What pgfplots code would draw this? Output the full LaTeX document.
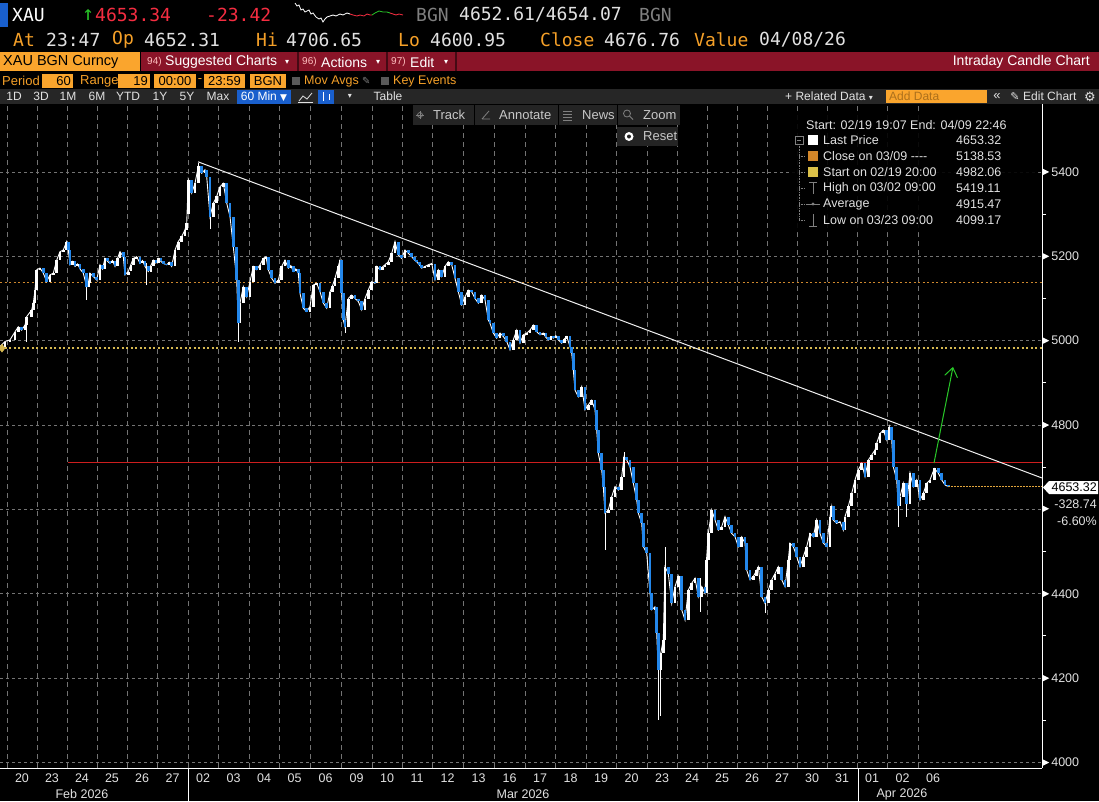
\documentclass[border=0pt]{standalone}
\usepackage{pgfplots}
\pgfplotsset{compat=1.18}
\usepackage{pgfplotstable}
\usepackage{fontspec}
\setmainfont{Liberation Sans}
\newfontfamily\mono{DejaVu Sans Mono}
\newfontfamily\dvs{DejaVu Sans}
\usetikzlibrary{arrows.meta}

\definecolor{borange}{RGB}{250,165,45}
\definecolor{otxt}{RGB}{245,160,40}
\definecolor{bbred}{RGB}{138,20,40}
\definecolor{tbgrey}{RGB}{38,38,38}
\definecolor{lbl}{RGB}{225,225,225}
\definecolor{gridc}{RGB}{115,115,115}
\definecolor{candleblue}{RGB}{35,135,235}
\definecolor{redtxt}{RGB}{245,45,65}
\definecolor{closeor}{RGB}{205,135,45}
\definecolor{startyl}{RGB}{215,185,80}
\definecolor{redline}{RGB}{205,30,30}
\definecolor{greenar}{RGB}{40,200,40}
\definecolor{lastln}{RGB}{225,165,60}
\definecolor{tbblue}{RGB}{25,95,205}
\definecolor{btn}{RGB}{36,36,36}
\definecolor{btxt}{RGB}{200,200,200}

\newcommand\F[1]{\fontsize{#1}{#1}\selectfont}
\newcommand\tri{\tikz[baseline=-1.3pt]\fill[white](0,0)--(0,6pt)--(6pt,3pt)--cycle;}

\pgfplotstableread{
x o c
0 4978 4986
5 4986 4998
10 4998 5002
15 5002 5021
18.3 5021 5033
21.7 5033 5025
25 5025 5037
26.7 5037 5057
31.7 5057 5073
33.3 5073 5089
35 5089 5120
36.7 5120 5168
40 5168 5172
43.3 5172 5160
46.7 5160 5140
50 5140 5156
53.3 5156 5160
56.7 5160 5191
60 5191 5211
63.3 5211 5215
66.7 5215 5235
68.3 5235 5215
70 5215 5180
72.5 5180 5188
75 5188 5176
77.5 5176 5182
80 5182 5170
83.3 5170 5160
86.7 5160 5128
88.3 5128 5136
90 5136 5160
93.3 5160 5152
96.7 5152 5144
100 5144 5180
102.5 5180 5170
105 5170 5195
107.5 5195 5188
110 5188 5183
112.5 5183 5190
115 5190 5176
117.5 5176 5195
120 5195 5211
123.3 5211 5199
125 5199 5156
128.3 5156 5164
130.8 5164 5180
133.3 5180 5195
136.7 5195 5199
140 5199 5183
142.5 5183 5190
145 5190 5176
148.3 5176 5164
150.8 5164 5178
153.3 5178 5191
155.8 5191 5184
158.3 5184 5195
160.8 5195 5188
163.3 5188 5183
166.7 5183 5180
169.2 5180 5186
171.7 5186 5176
175 5176 5215
178.3 5215 5235
181.7 5235 5247
185 5247 5263
186.7 5263 5278
188.3 5300 5381
191.7 5381 5350
195 5350 5373
198.3 5373 5413
201.7 5413 5397
205 5397 5405
206.7 5405 5389
210 5389 5294
213.3 5294 5326
216.7 5326 5342
220 5342 5365
223.3 5365 5373
226.7 5373 5326
230 5326 5294
233.3 5294 5223
236.7 5223 5144
238.3 5144 5041
240 5041 5089
243.3 5089 5128
246.7 5128 5104
250 5104 5140
253.3 5140 5176
256.7 5176 5168
260 5168 5180
263.3 5180 5195
266 5195 5199
268.3 5199 5168
271.7 5168 5148
275 5148 5136
278.3 5136 5144
281.7 5144 5176
285 5176 5191
288.3 5191 5172
290.8 5172 5178
293.3 5178 5164
295.8 5164 5170
298.3 5170 5160
300 5160 5112
303.3 5112 5077
306.7 5077 5069
310 5069 5081
313.3 5081 5132
316.7 5132 5136
320 5136 5116
323.3 5116 5089
326.7 5089 5077
330 5077 5116
332.5 5116 5130
335 5130 5148
338.3 5148 5176
340 5176 5191
341.7 5191 5112
343.3 5112 5049
345 5049 5033
348.3 5033 5100
351.7 5100 5108
355 5108 5100
358.3 5100 5093
361.7 5093 5073
365 5073 5100
368.3 5100 5120
371.7 5120 5140
375 5140 5136
376.7 5136 5176
380 5176 5168
382.5 5168 5175
385 5175 5180
388.3 5180 5187
391.7 5187 5207
395 5207 5235
398.3 5235 5203
401.7 5203 5195
405 5195 5215
408.3 5215 5207
411.7 5207 5199
414.2 5199 5192
416.7 5192 5187
419.2 5187 5180
421.7 5180 5172
425 5172 5176
428.3 5176 5180
431.7 5180 5183
435 5183 5144
438.3 5144 5168
441.7 5168 5152
445 5152 5176
448.3 5176 5187
451.7 5187 5180
455 5180 5148
458.3 5148 5116
461.7 5116 5085
465 5085 5104
468.3 5104 5120
471.7 5120 5116
475 5116 5100
478.3 5100 5089
481.7 5089 5108
485 5108 5097
488.3 5097 5049
490 5049 5041
493.3 5041 5018
496.7 5018 5006
500 5006 5018
503.3 5018 5010
506.7 5010 4998
510 4998 4978
513.3 4978 5002
516.7 5002 5025
520 5025 4994
523.3 4994 5014
526.7 5014 5018
530 5018 5025
533.3 5025 5037
536.7 5037 5021
540 5021 5014
543.3 5014 5018
545.8 5018 5008
548.3 5008 5002
550.8 5002 5010
553.3 5010 5006
555.8 5006 5012
558.3 5012 5002
561.7 5002 4994
564.2 4994 5004
566.7 5004 5010
570 5010 4986
571.7 4986 4970
573.3 4970 4931
575 4931 4883
578.3 4883 4867
581.7 4867 4891
585 4891 4836
588.3 4836 4848
591.7 4848 4859
595 4859 4836
596.7 4836 4788
598.3 4788 4733
601.7 4733 4693
603.3 4693 4654
605 4654 4591
608.3 4591 4599
611.7 4599 4630
615 4630 4654
618.3 4654 4646
621.7 4646 4678
624 4678 4725
626.7 4725 4717
630 4717 4701
633.3 4701 4662
636.7 4662 4622
638.3 4622 4591
641.7 4591 4567
643.3 4567 4512
646.7 4512 4496
650 4496 4401
651.7 4401 4362
655 4362 4369
656.7 4369 4306
658.3 4306 4219
660.7 4219 4259
663.3 4259 4290
665 4290 4464
668.3 4464 4448
671.7 4448 4377
675 4377 4417
678.3 4417 4441
681.7 4441 4362
685 4362 4338
688.3 4338 4409
691.7 4409 4425
695 4425 4437
698.3 4437 4393
701.7 4393 4417
705 4417 4401
706.5 4401 4480
708.3 4480 4543
711.7 4543 4599
715 4599 4575
718.3 4575 4551
721.7 4551 4559
725 4559 4583
728.3 4583 4563
731.7 4563 4543
735 4543 4535
738.3 4535 4512
741.7 4512 4535
745 4535 4520
746.7 4520 4456
750 4456 4433
753.3 4433 4441
756.7 4441 4456
758.3 4456 4464
761.7 4464 4393
765 4393 4377
768.3 4377 4409
771.7 4409 4433
775 4433 4448
778.3 4448 4464
781.7 4464 4433
785 4433 4417
788.3 4417 4480
790 4480 4520
793.3 4520 4512
796.7 4512 4488
800 4488 4464
803.3 4464 4488
806.7 4488 4512
810 4512 4543
813.3 4543 4535
816.7 4535 4575
820 4575 4543
823.3 4543 4520
826.7 4520 4512
830 4512 4583
831.7 4583 4607
833.3 4607 4575
836.7 4575 4567
840 4567 4571
843.3 4571 4551
845 4551 4583
848.3 4583 4607
851.7 4607 4638
855 4638 4670
858.3 4670 4694
861.7 4694 4709
865 4709 4678
868.3 4678 4717
871.7 4717 4729
875 4729 4741
876.7 4741 4757
880 4757 4780
883.3 4780 4788
886.7 4788 4765
889.3 4765 4796
891.7 4796 4765
893.3 4765 4701
896.7 4701 4670
898.3 4670 4607
900 4607 4630
903.3 4630 4662
906.7 4662 4614
910 4614 4686
913.3 4686 4654
916.7 4654 4670
920 4670 4622
923.3 4622 4638
926.7 4638 4662
930 4662 4670
934.3 4670 4697
938.3 4697 4686
941.7 4686 4670
945 4670 4658
948.3 4658 4654
}\candles

\pgfplotstableread{
x lo hi
26.7 4998 5057
86.7 5097 5160
146.7 5132 5183
188.3 5300 5381
198.3 5373 5421
210 5264 5389
238.3 4998 5144
345 5017 5049
605 4504 4654
624 4678 4737
658.3 4101 4306
660.7 4110 4259
665 4290 4512
700 4358 4437
765 4354 4393
898.3 4559 4670
906.7 4583 4662
}\wicks

\begin{document}
\begin{tikzpicture}
\useasboundingbox (0,0) rectangle (1099pt,-801pt);
\fill[black] (0,0) rectangle (1099pt,-801pt);

% ---------------- header ----------------
\begin{scope}[x=1pt,y=-1pt,every node/.style={inner sep=0pt}]
\fill[tbblue] (0,3) rectangle (8,27);
\node[anchor=west,text=white] at (12,15) {\mono\F{18}XAU};
\node[anchor=west,text=greenar] at (82,15) {\mono\F{20}↑};
\node[anchor=west,text=redtxt] at (95,15) {\mono\F{18}4653.34};
\node[anchor=west,text=redtxt] at (206,15) {\mono\F{18}-23.42};
\node[anchor=west,text=gray] at (416,15) {\mono\F{18}BGN};
\node[anchor=west,text=lbl] at (459,15) {\mono\F{18}4652.61/4654.07};
\node[anchor=west,text=gray] at (639,15) {\mono\F{18}BGN};
% row 2
\foreach \xx/\tt in {13/At,112/Op,256/Hi,398/Lo,540/Close,694/Value}
  \node[anchor=west,text=otxt] at (\xx,40) {\mono\F{18}\tt};
\foreach \xx/\tt in {46/23:47,144/4652.31,286/4706.65,430/4600.95,604/4676.76}
  \node[anchor=west,text=lbl] at (\xx,40) {\mono\F{18}\tt};
\node[anchor=west,text=lbl] at (759,40) {\mono\F{18}04/08/26};
% row 3
\fill[borange] (0,52) rectangle (140,71);
\node[anchor=west,text=black] at (3,62) {\F{14.5}XAU BGN Curncy};
\fill[bbred] (141,52) rectangle (1099,71);
\draw[black!50!bbred,line width=1.5pt] (298,52)--(298,71) (387,52)--(387,71) (456,52)--(456,71);
\node[anchor=west,text=pink] at (147,62) {\F{10}94)};
\node[anchor=west,text=white] at (165,62) {\F{14}Suggested Charts};
\node[anchor=west,text=white] at (285,62) {\dvs\F{8}▾};
\node[anchor=west,text=pink] at (302,62) {\F{10}96)};
\node[anchor=west,text=white] at (321,62) {\F{14}Actions};
\node[anchor=west,text=white] at (376,62) {\dvs\F{8}▾};
\node[anchor=west,text=pink] at (391,62) {\F{10}97)};
\node[anchor=west,text=white] at (410,62) {\F{14}Edit};
\node[anchor=west,text=white] at (444,62) {\dvs\F{8}▾};
\node[anchor=east,text=white] at (1090,62) {\F{14}Intraday Candle Chart};
% row 4
\node[anchor=west,text=otxt] at (2,81) {\F{13}Period};
\fill[borange] (42,73.5) rectangle (73,88);
\node[anchor=east,text=black] at (71,81) {\F{13}60};
\node[anchor=west,text=otxt] at (80,81) {\F{13}Range};
\fill[borange] (118,73.5) rectangle (150,88);
\node[anchor=east,text=black] at (148,81) {\F{13}19};
\fill[borange] (154,73.5) rectangle (196,88);
\node[text=black] at (175,81) {\F{13}00:00};
\node[text=otxt] at (200,81) {\F{13}-};
\fill[borange] (204,73.5) rectangle (245,88);
\node[text=black] at (224.5,81) {\F{13}23:59};
\fill[borange] (250,73.5) rectangle (286,88);
\node[text=black] at (268,81) {\F{13}BGN};
\fill[gray!70!black] (292,77) rectangle (300,85);
\node[anchor=west,text=otxt] at (304,81) {\F{12.5}Mov Avgs};
\node[anchor=west,text=gray] at (362,81) {\dvs\F{10}✎};
\fill[gray!70!black] (381,77) rectangle (389,85);
\node[anchor=west,text=otxt] at (393,81) {\F{12.5}Key Events};
% row 5 toolbar
\fill[tbgrey] (0,89) rectangle (1099,104);
\foreach \xx/\tt in {14/1D,41/3D,68/1M,97/6M,128/YTD,160/1Y,187/5Y,218/Max,388/Table}
  \node[text=lbl] at (\xx,96.5) {\F{12}\tt};
\fill[tbblue] (237,89.5) rectangle (291,103.5);
\node[text=white] at (264,96.5) {\F{12}60 Min \dvs\F{9}▼};
\draw[lbl,line width=0.8pt] (299,101)--(303,96)--(307,99)--(312,93);
\draw[lbl,line width=0.6pt] (298,102)--(313,102);
\fill[tbblue] (318,89.5) rectangle (334,103.5);
\draw[white,line width=1pt] (323,92)--(323,101) (329,94)--(329,100);
\node[text=lbl] at (350,96.5) {\dvs\F{8}▾};
\node[anchor=west,text=lbl] at (785,96.5) {\F{12}+ Related Data \dvs\F{8}▾};
\fill[borange] (886,90) rectangle (987,103);
\node[anchor=west,text=otxt!70!black] at (889,96.5) {\F{12}Add Data};
\node[text=lbl] at (997,96.5) {\F{13}«};
\node[text=lbl] at (1015,96.5) {\dvs\F{11}✎};
\node[anchor=west,text=lbl] at (1023,96.5) {\F{12}Edit Chart};
\node[text=lbl] at (1090,96.5) {\dvs\F{13}⚙};
\end{scope}

% ---------------- sparkline ----------------
\begin{axis}[at={(295pt,-25pt)}, anchor=south west, width=108pt, height=22pt,
  scale only axis, hide axis, xmin=0, xmax=108, ymin=0, ymax=22, clip=false]
\addplot[white, line width=0.8pt] coordinates {(0,22)(2,19)(4,20)(6,15)(8,16)(10,13)(12,14)(14,15)(16,11)(18,12)(21,8)(24,6)(26,7)(28,3)(30,6)(32,8)(35,9)(38,10)(41,9)(45,11)(48,10)(52,12)(55,11)};
\addplot[redtxt, line width=0.8pt] coordinates {(55,11)(58,10)(62,9)(65,10)(69,9)(72,11)(75,10)(77,10)};
\addplot[greenar, line width=0.8pt] coordinates {(77,10)(80,12)(84,14)(88,13)(92,13)(95,12)};
\addplot[redtxt, line width=0.8pt] coordinates {(95,12)(98,11)(101,10)(104,11)(108,10)};
\end{axis}

% ---------------- main chart ----------------
\begin{axis}[
  at={(0pt,-768pt)}, anchor=south west,
  width=1042pt, height=664pt, scale only axis,
  xmin=0, xmax=1042, ymin=3987, ymax=5561,
  axis x line*=bottom, axis y line*=right,
  axis line style={white, line width=1pt},
  xtick={22,52,82,112,142,172.5,203,233.5,264,294.5,325.5,356.5,387,417,447.5,478.5,509.5,540,570.5,601,631.5,662,692,722,752,782,812,842,872,902.5,933},
  xticklabels={20,23,24,25,26,27,02,03,04,05,06,09,10,11,12,13,16,17,18,19,20,23,24,25,26,27,30,31,01,02,06},
  xticklabel style={text=lbl, font=\F{12.5}, inner sep=0pt, yshift=-6pt},
  major tick length=0pt,
  extra x ticks={7,37,67,97,127,157,188,218,249,279,310,341,372,402,432,463,494,525,555,586,616,647,677,707,737,767,797,827,857,887,918},
  extra x tick labels={},
  extra x tick style={grid=major, major tick length=0pt,
     major grid style={gridc, line width=0.6pt, dash pattern=on 5pt off 4pt}},
  ytick={4000,4200,4400,4600,4800,5000,5200,5400},
  yticklabels={\tri\,4000,\tri\,4200,\tri\,4400,\tri,\tri\,4800,\tri\,5000,\tri\,5200,\tri\,5400},
  ymajorgrids=true,
  major grid style={gridc, line width=0.6pt, dash pattern=on 3pt off 3pt},
  minor y tick num=1,
  minor tick length=4pt, tick align=outside,
  y tick style={white, line width=1pt},
  yticklabel pos=right,
  yticklabel style={anchor=west, inner sep=0pt, xshift=1pt, text=lbl, font=\F{12.5}},
]
\addplot[closeor, line width=1.4pt, dash pattern=on 2pt off 2.5pt] coordinates {(0,5138.53)(1042,5138.53)};
\addplot[startyl, line width=1.6pt, dash pattern=on 2pt off 2.5pt] coordinates {(0,4982.06)(1042,4982.06)};
\addplot[redline, line width=1pt] coordinates {(68,4712)(1042,4712)};
\addplot[white, line width=0.9pt] table[x=x,y=c]{\candles};
\addplot[draw=none, mark=none, error bars/.cd, y dir=both, y explicit, error mark=none,
  error bar style={white, line width=0.8pt}]
  table[x=x, y expr={(\thisrow{lo}+\thisrow{hi})/2}, y error expr={(\thisrow{hi}-\thisrow{lo})/2}]{\wicks};
\addplot[draw=none, mark=none, error bars/.cd, y dir=both, y explicit, error mark=none,
  error bar style={white, line width=2.6pt}]
  table[x=x, y expr={(\thisrow{o}+\thisrow{c})/2}, y error expr={abs(\thisrow{c}-\thisrow{o})/2},
   restrict expr to domain={\thisrow{c}-\thisrow{o}}{0:3000}]{\candles};
\addplot[draw=none, mark=none, error bars/.cd, y dir=both, y explicit, error mark=none,
  error bar style={candleblue, line width=2.6pt}]
  table[x=x, y expr={(\thisrow{o}+\thisrow{c})/2}, y error expr={abs(\thisrow{c}-\thisrow{o})/2},
   restrict expr to domain={\thisrow{c}-\thisrow{o}}{-3000:-0.5}]{\candles};
\addplot[lastln, line width=1pt, dash pattern=on 1.5pt off 1.5pt] coordinates {(948,4653.32)(1042,4653.32)};
\addplot[white!88!gray, line width=1pt] coordinates {(198,5424)(1042,4674.5)};
\addplot[greenar, line width=1pt, -{Straight Barb[length=9pt,width=13pt]}] coordinates {(934,4710)(953,4938)};
\addplot[only marks, mark=diamond*, mark size=4pt, startyl] coordinates {(2,4982.06)};
\end{axis}

% ---------------- overlays ----------------
\begin{scope}[x=1pt,y=-1pt,every node/.style={inner sep=0pt}]
% x-axis months
\draw[white, line width=1pt] (188,768)--(188,801) (858,768)--(858,801);
\node[text=lbl] at (82,794) {\F{12.5}Feb 2026};
\node[text=lbl] at (523,794) {\F{12.5}Mar 2026};
\node[text=lbl] at (902,794) {\F{12.5}Apr 2026};
% buttons
\fill[btn] (413,105) rectangle (680,125);
\draw[black, line width=1pt] (474,105)--(474,125) (558,105)--(558,125) (617,105)--(617,125);
\draw[gray, line width=0.7pt] (420,111)--(420,119) (416,115)--(424,115);
\draw[gray, line width=0.7pt] (420,115) circle (2.5);
\node[anchor=west,text=btxt] at (433,115) {\F{13}Track};
\draw[gray, line width=0.8pt] (482,119)--(490,119) (482,119)--(489,111);
\node[anchor=west,text=btxt] at (499,115) {\F{13}Annotate};
\draw[gray, line width=0.9pt] (563,111)--(572,111) (563,114)--(572,114) (563,117)--(572,117) (563,120)--(572,120);
\node[anchor=west,text=btxt] at (582,115) {\F{13}News};
\draw[gray, line width=0.8pt] (627,113.5) circle (3.5) (629.5,116)--(633,119.5);
\node[anchor=west,text=btxt] at (643,115) {\F{13}Zoom};
\fill[btn] (617,127) rectangle (678,146);
\fill[white] (629,136.5) circle (4.5);
\fill[btn] (629,136.5) circle (2);
\node[anchor=west,text=btxt] at (643,136.5) {\F{13}Reset};
% info box
\fill[black, opacity=0.9, rounded corners=2pt] (792,113) rectangle (1038,232);
\node[anchor=west,text=lbl] at (806,125) {\F{12.5}Start: 02/19 19:07 End: 04/09 22:46};
\draw[gray, line width=0.6pt] (795,136) rectangle (803,144) (797,140)--(801,140);
\draw[gray, line width=0.6pt, densely dotted] (799,144)--(799,220);
\foreach \yy in {156,172,188,204,220} \draw[gray, line width=0.6pt, densely dotted] (799,\yy)--(805,\yy);
\fill[white] (808,135) rectangle (818,145);
\fill[closeor!90!orange] (808,151) rectangle (818,161);
\fill[startyl!90!yellow] (808,167) rectangle (818,177);
\draw[gray, line width=0.8pt] (813,182)--(813,194) (809,182)--(817,182);
\draw[gray, line width=0.8pt] (806,204)--(820,204);
\fill[gray] (813,204) circle (1.6);
\draw[gray, line width=0.8pt] (813,214)--(813,226) (809,226)--(817,226);
\foreach \yy/\tt/\vv in {140/{Last Price}/4653.32,156/{Close on 03/09 -{}-{}-{}-}/5138.53,172/{Start on 02/19 20:00}/4982.06,188/{High on 03/02 09:00}/5419.11,204/{Average}/4915.47,220/{Low on 03/23 09:00}/4099.17}{
  \node[anchor=west,text=lbl] at (823,\yy) {\F{12.5}\tt};
  \node[anchor=west,text=lbl] at (956,\yy) {\F{12.5}\vv};
}
% last price label
\fill[white] (1043,487.5)--(1049,481)--(1098,481)--(1098,494)--(1049,494)--cycle;
\node[anchor=east,text=black] at (1097,487.5) {\F{12.5}4653.32};
\node[anchor=east,text=lbl] at (1097,504) {\F{12.5}-328.74};
\node[anchor=east,text=lbl] at (1097,521) {\F{12.5}-6.60\%};
\end{scope}
\end{tikzpicture}
\end{document}
